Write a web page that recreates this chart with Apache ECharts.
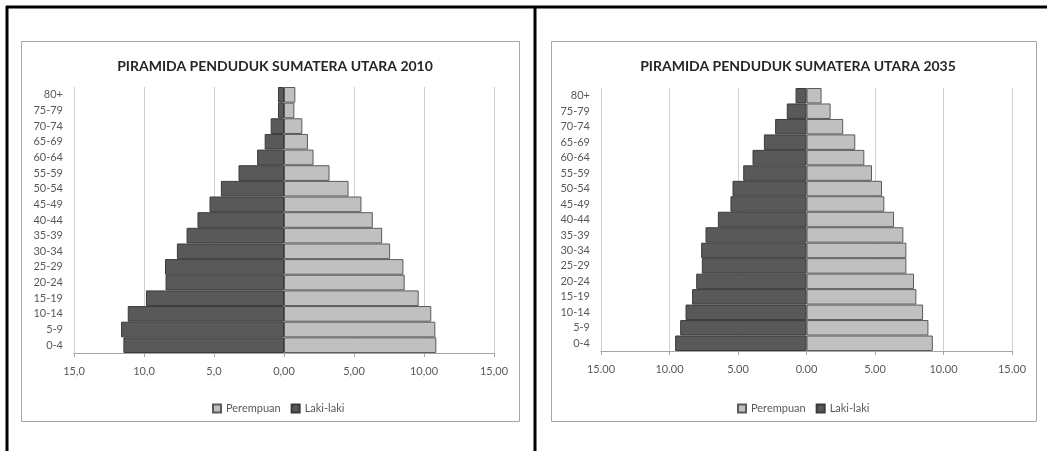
<!DOCTYPE html>
<html>
<head>
<meta charset="utf-8">
<script src="https://cdn.jsdelivr.net/npm/echarts@6/dist/echarts.min.js"></script>
<style>
html,body{margin:0;padding:0;background:#fff;}
#c{width:1047px;height:451px;}
</style>
</head>
<body>
<div id="c"></div>
<script>
const ageGroups = ['0-4','5-9','10-14','15-19','20-24','25-29','30-34','35-39','40-44','45-49','50-54','55-59','60-64','65-69','70-74','75-79','80+'];

const title2010 = 'PIRAMIDA PENDUDUK SUMATERA UTARA 2010';
const male2010 = [11.47, 11.64, 11.16, 9.86, 8.46, 8.50, 7.65, 6.96, 6.18, 5.32, 4.51, 3.25, 1.92, 1.38, 0.95, 0.43, 0.43];
const female2010 = [10.88, 10.81, 10.52, 9.62, 8.62, 8.53, 7.58, 7.01, 6.34, 5.53, 4.61, 3.25, 2.11, 1.71, 1.31, 0.74, 0.81];

const title2035 = 'PIRAMIDA PENDUDUK SUMATERA UTARA 2035';
const male2035 = [9.59, 9.22, 8.83, 8.35, 8.05, 7.64, 7.69, 7.37, 6.47, 5.55, 5.40, 4.62, 3.94, 3.11, 2.29, 1.44, 0.80];
const female2035 = [9.22, 8.90, 8.51, 8.02, 7.85, 7.29, 7.29, 7.07, 6.39, 5.68, 5.51, 4.78, 4.22, 3.56, 2.68, 1.76, 1.10];

const seriesNames = ['Perempuan', 'Laki-laki'];

const FONT = 'Lato, "Open Sans", sans-serif';
const TXT = '#595959';

function fmt2010(v){
  if (v === 0) return '0,00';
  if (v < 0) return Math.abs(v).toFixed(1).replace('.', ',');
  return v.toFixed(2).replace('.', ',');
}
function fmt2035(v){
  return Math.abs(v).toFixed(2);
}

const grids = [
  {left: 74, right: 1047 - 494, top: 87, bottom: 451 - 353},
  {left: 601, right: 1047 - 1012, top: 88, bottom: 451 - 351}
];

function xAxis(i, fmt){
  return {
    type: 'value', gridIndex: i, min: -15, max: 15, interval: 5,
    axisLine: {show: true, lineStyle: {color: '#a6a6a6', width: 1}},
    axisTick: {show: true, length: 4, lineStyle: {color: '#a6a6a6'}},
    splitLine: {show: true, lineStyle: {color: '#d0d0d0', width: 1}},
    axisLabel: {formatter: fmt, color: TXT, fontFamily: FONT, fontSize: 11, margin: 13}
  };
}
function yAxis(i){
  return {
    type: 'category', gridIndex: i, data: ageGroups,
    axisLine: {show: false},
    axisTick: {show: false},
    axisLabel: {color: TXT, fontFamily: FONT, fontSize: 11, margin: 11}
  };
}
const barStyleF = {color: '#c0c0c0', borderColor: '#5a5a5a', borderWidth: 1};
const barStyleM = {color: '#595959', borderColor: '#3a3a3a', borderWidth: 1};

function series(i, female, male){
  return [
    {name: seriesNames[0], type: 'bar', xAxisIndex: i, yAxisIndex: i, stack: 's' + i,
     data: female, barCategoryGap: '0%', itemStyle: barStyleF, silent: true},
    {name: seriesNames[1], type: 'bar', xAxisIndex: i, yAxisIndex: i, stack: 's' + i,
     data: male.map(v => -v), barCategoryGap: '0%', itemStyle: barStyleM, silent: true}
  ];
}

const legendBase = {data: seriesNames, top: 398, itemWidth: 8, itemHeight: 8, itemGap: 10,
  textStyle: {fontFamily: FONT, fontSize: 11, color: TXT}, selectedMode: false, icon: 'rect'};

const chart = echarts.init(document.getElementById('c'), null, {renderer: 'canvas'});
chart.setOption({
  animation: false,
  backgroundColor: '#fff',
  title: [
    {text: title2010, left: 270, top: 54, textAlign: 'center',
     textStyle: {fontFamily: FONT, fontWeight: 'bold', fontSize: 14, color: '#262626'}},
    {text: title2035, left: 793, top: 54, textAlign: 'center',
     textStyle: {fontFamily: FONT, fontWeight: 'bold', fontSize: 14, color: '#262626'}}
  ],
  legend: [
    Object.assign({}, legendBase, {left: 207}),
    Object.assign({}, legendBase, {left: 732})
  ],
  grid: grids,
  xAxis: [xAxis(0, fmt2010), xAxis(1, fmt2035)],
  yAxis: [yAxis(0), yAxis(1)],
  series: [...series(0, female2010, male2010), ...series(1, female2035, male2035)],
  graphic: [
    {type: 'line', shape: {x1: 6, y1: 7, x2: 1047, y2: 7}, style: {stroke: '#000', lineWidth: 3}, silent: true},
    {type: 'line', shape: {x1: 7, y1: 6, x2: 7, y2: 451}, style: {stroke: '#000', lineWidth: 3}, silent: true},
    {type: 'line', shape: {x1: 535, y1: 6, x2: 535, y2: 451}, style: {stroke: '#000', lineWidth: 3}, silent: true},
    {type: 'rect', shape: {x: 21.5, y: 41.5, width: 498, height: 380}, style: {fill: null, stroke: '#a6a6a6', lineWidth: 1}, silent: true, z: -1},
    {type: 'rect', shape: {x: 551.5, y: 41.5, width: 485, height: 380}, style: {fill: null, stroke: '#a6a6a6', lineWidth: 1}, silent: true, z: -1}
  ]
});
</script>
</body>
</html>
